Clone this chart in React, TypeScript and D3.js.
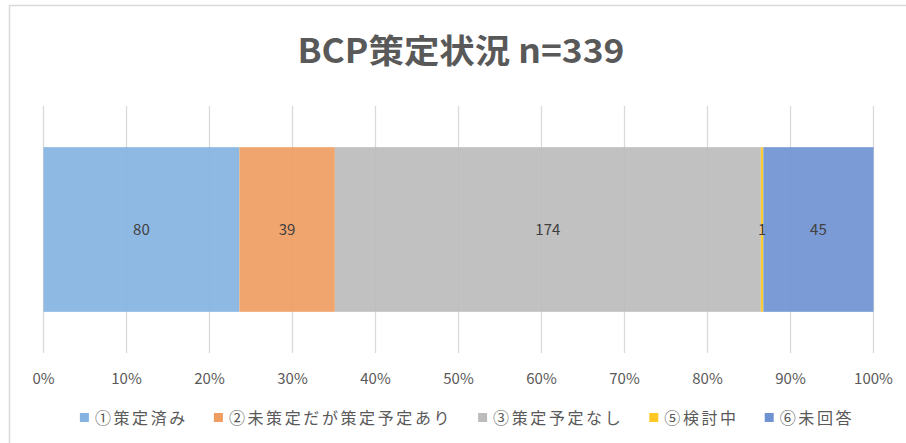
import React, { useEffect, useRef } from 'react';
import * as d3 from 'd3';

// BCP策定状況 n=339
const title = 'BCP策定状況 n=339';
const categories = ['①策定済み', '②未策定だが策定予定あり', '③策定予定なし', '⑤検討中', '⑥未回答'];
const counts = [80, 39, 174, 1, 45];
const colors = ['#84b3e1', '#f09d62', '#bcbcbc', '#ffc825', '#6f93d2'];
const tickValues = [0, 0.1, 0.2, 0.3, 0.4, 0.5, 0.6, 0.7, 0.8, 0.9, 1];

const W = 906;
const H = 443;
const FONT = '"Noto Sans CJK JP", "Noto Sans", sans-serif';

export default function App() {
    const ref = useRef<SVGSVGElement>(null);

    useEffect(() => {
        const svg = d3.select(ref.current);
        svg.selectAll('*').remove();

        // chart frame (runs past the right / bottom edge of the shot)
        svg.append('rect')
            .attr('x', 9.5).attr('y', 5.5)
            .attr('width', 1200).attr('height', 1200)
            .attr('fill', '#fff')
            .attr('stroke', '#d9d9d9')
            .attr('stroke-width', 1.5);

        svg.append('text')
            .attr('x', 461).attr('y', 63)
            .attr('text-anchor', 'middle')
            .attr('font-family', FONT)
            .attr('font-weight', 'bold')
            .attr('font-size', 33)
            .attr('fill', '#595959')
            .attr('textLength', 327)
            .attr('lengthAdjust', 'spacingAndGlyphs')
            .text(title);

        const total = d3.sum(counts);
        const x = d3.scaleLinear().domain([0, 1]).range([43.5, 873.5]);
        const y = d3.scaleBand<string>().domain(['BCP']).range([106, 353]).padding(0.2);

        // grid
        svg.append('g')
            .selectAll('line')
            .data(tickValues)
            .enter()
            .append('line')
            .attr('x1', d => x(d)).attr('x2', d => x(d))
            .attr('y1', 106).attr('y2', 353)
            .attr('stroke', '#d9d9d9')
            .attr('stroke-width', 1.3);

        // stacked 100% bar
        const row: Record<string, number> = {};
        categories.forEach((c, i) => { row[c] = counts[i] / total; });
        const series = d3.stack<Record<string, number>>().keys(categories)([row]);

        const bars = svg.append('g');
        bars.selectAll('rect')
            .data(series)
            .enter()
            .append('rect')
            .attr('x', s => x(s[0][0]))
            .attr('width', s => x(s[0][1]) - x(s[0][0]))
            .attr('y', y('BCP')!)
            .attr('height', y.bandwidth())
            .attr('fill', (s, i) => colors[i])
            .attr('fill-opacity', 0.92);

        const yMid = y('BCP')! + y.bandwidth() / 2;
        bars.selectAll('text')
            .data(series)
            .enter()
            .append('text')
            .attr('x', s => (x(s[0][0]) + x(s[0][1])) / 2)
            .attr('y', yMid)
            .attr('dy', '0.35em')
            .attr('text-anchor', 'middle')
            .attr('font-family', FONT)
            .attr('font-size', 15)
            .attr('fill', '#404040')
            .text((s, i) => counts[i]);

        // x tick labels
        svg.append('g')
            .selectAll('text')
            .data(tickValues)
            .enter()
            .append('text')
            .attr('x', d => x(d))
            .attr('y', 379)
            .attr('dy', '0.35em')
            .attr('text-anchor', 'middle')
            .attr('font-family', FONT)
            .attr('font-size', 15)
            .attr('fill', '#595959')
            .text(d => d3.format('.0%')(d));

        // legend
        const legend = svg.append('g');
        const items = legend.selectAll('g')
            .data(categories)
            .enter()
            .append('g');
        items.append('rect')
            .attr('width', 9).attr('height', 9)
            .attr('y', 413)
            .attr('fill', (d, i) => colors[i]);
        const labels = items.append('text')
            .attr('x', 15)
            .attr('y', 418)
            .attr('dy', '0.35em')
            .attr('font-family', FONT)
            .attr('font-size', 16)
            .attr('letter-spacing', 2.6)
            .attr('fill', '#595959')
            .text(d => d);

        const widths: number[] = [];
        labels.each(function () {
            widths.push((this as SVGTextElement).getComputedTextLength());
        });
        const gap = 26;
        const totalW = d3.sum(widths.map(w => 15 + w)) + gap * (widths.length - 1);
        let cx = 467 - totalW / 2;
        items.each(function (d, i) {
            d3.select(this).attr('transform', `translate(${cx},0)`);
            cx += 15 + widths[i] + gap;
        });
    }, []);

    return (
        <svg
            ref={ref}
            width={W}
            height={H}
            style={{ position: 'absolute', left: 0, top: 0, display: 'block', background: '#fff' }}
        />
    );
}
